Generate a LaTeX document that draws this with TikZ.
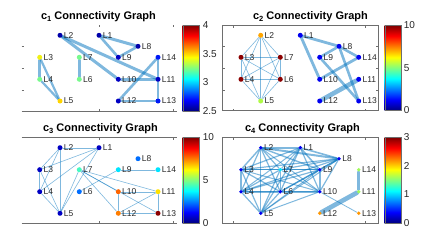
\documentclass[tikz,border=0pt]{standalone}
\usepackage{fontspec}
\setmainfont{Liberation Sans}
\usetikzlibrary{backgrounds}
\definecolor{edgec}{RGB}{0,114,189}
\definecolor{axc}{RGB}{110,110,110}
\definecolor{jet0}{RGB}{0,0,128}
\definecolor{jet1}{RGB}{0,0,255}
\definecolor{jet2}{RGB}{0,255,255}
\definecolor{jet3}{RGB}{255,255,0}
\definecolor{jet4}{RGB}{255,0,0}
\definecolor{jet5}{RGB}{128,0,0}
% node colours
\definecolor{navyA}{RGB}{0,0,170}
\definecolor{navyB}{RGB}{0,0,195}
\definecolor{blueA}{RGB}{0,25,245}
\definecolor{blueB}{RGB}{0,0,240}
\definecolor{yelA}{RGB}{240,240,20}
\definecolor{goldA}{RGB}{255,212,0}
\definecolor{mintA}{RGB}{120,250,140}
\definecolor{oraA}{RGB}{255,165,0}
\definecolor{redD}{RGB}{140,0,0}
\definecolor{limeA}{RGB}{175,250,70}
\definecolor{skyA}{RGB}{0,110,255}
\definecolor{aquaA}{RGB}{70,250,195}
\definecolor{cyanA}{RGB}{0,228,255}
\definecolor{oraB}{RGB}{255,100,0}
\definecolor{oraC}{RGB}{255,125,0}
\definecolor{yelB}{RGB}{255,225,0}
\definecolor{cyanB}{RGB}{0,230,255}
\definecolor{greenA}{RGB}{160,250,90}
\definecolor{oraD}{RGB}{255,150,0}
\pgfdeclareverticalshading{jetbar}{100bp}{color(0bp)=(jet0); color(25bp)=(jet0); color(31.25bp)=(jet1); color(43.75bp)=(jet2); color(56.25bp)=(jet3); color(68.75bp)=(jet4); color(75bp)=(jet5); color(100bp)=(jet5)}
\tikzset{
  lnk/.style={draw=edgec, draw opacity=0.5, line cap=round},
  vtx/.style={circle, inner sep=0pt, minimum size=5pt, draw=none},
  vtxs/.style={circle, inner sep=0pt, minimum size=3.8pt, draw=none},
  lab/.style={font=\fontsize{8.5}{9}\selectfont, inner sep=0pt, text=black!85},
  ttl/.style={font=\fontsize{11}{13}\selectfont\bfseries, inner sep=0pt, anchor=base},
  cbl/.style={font=\fontsize{10}{12}\selectfont, inner sep=0pt, anchor=west, text=black!85},
  axl/.style={draw=axc, line width=0.5pt},
  cbar/.style={shading=jetbar, draw=axc, line width=0.4pt},
  label distance=1pt
}
\newcommand{\sub}[1]{\raisebox{-2.5pt}{\fontsize{7.5}{8}\selectfont #1}}
\begin{document}
\begin{tikzpicture}[x=1pt,y=-1pt]
\useasboundingbox (0,0) rectangle (424,249);

% ---------------- Panel 1 ----------------
\draw[axl] (21.7,111) -- (176.7,111);
\foreach \y in {46.7,68.3,90} \draw[axl] (21.7,\y) -- ++(2,0);
\foreach \x in {99,173} {\draw[axl] (\x,111) -- ++(0,-2); \draw[axl] (\x,25) -- ++(0,2);}
\node[ttl] (t1) at (98.5,19.5) {c\sub{1} Connectivity Graph};
\foreach \n/\x/\y/\c in {L1/99/35.3/navyA, L2/60/35.3/navyA, L8/138/46.3/navyA,
  L3/39.7/57.3/yelA, L7/79.3/57.3/mintA, L9/118.3/57.3/navyB, L14/158/57.3/blueA,
  L4/39.7/79.3/mintA, L6/79.3/79.3/mintA, L10/118.3/79.3/navyB, L11/158/79.3/navyB,
  L5/60/101/goldA, L12/118.3/101/navyB, L13/158/101/blueA}
  \node[vtx, fill=\c, label={[lab]right:\n}] (a\n) at (\x,\y) {};
\begin{scope}[on background layer]
\foreach \u/\v/\w in {L2/L10/3, L2/L11/3, L1/L8/3, L1/L9/2.6, L8/L9/2.6, L3/L4/2.6,
  L3/L5/2.2, L4/L5/2.2, L7/L6/3, L10/L11/2.6, L14/L12/2.6, L14/L11/2.6, L11/L13/2.6, L12/L13/2.6}
  \draw[lnk, line width=\w pt] (a\u) -- (a\v);
\end{scope}
\shade[cbar] (182.7,25) rectangle (199.3,111);
\node[cbl] (k1a) at (202.7,25) {4};
\node[cbl] (k1b) at (202.7,53.7) {3.5};
\node[cbl] (k1c) at (202.7,82.3) {3};
\node[cbl] (k1d) at (202.7,111) {2.5};

% ---------------- Panel 2 ----------------
\draw[axl] (222.7,25.5) rectangle (378,110.5);
\foreach \y in {46.7,68.3,90} {\draw[axl] (222.7,\y) -- ++(2,0); \draw[axl] (378,\y) -- ++(-2,0);}
\foreach \x in {233.7,365.3} {\draw[axl] (\x,110.5) -- ++(0,-2); \draw[axl] (\x,25.5) -- ++(0,2);}
\node[ttl] (t2) at (310.5,19.5) {c\sub{2} Connectivity Graph};
\foreach \n/\x/\y/\c in {L1/300.3/35.3/blueB, L2/260.7/35.3/oraA, L8/339/46.3/blueB,
  L3/241/57.3/redD, L7/280.3/57.3/redD, L9/319.7/57.3/blueB, L14/358.7/57.3/blueB,
  L4/241/79.3/redD, L6/280.3/79.3/redD, L10/319.7/79.3/blueB, L11/358.7/79.3/blueB,
  L5/260.7/101/limeA, L12/319.7/101/blueB, L13/358.7/101/blueB}
  \node[vtx, fill=\c, label={[lab]right:\n}] (b\n) at (\x,\y) {};
\begin{scope}[on background layer]
\foreach \u/\v in {L2/L3, L2/L7, L2/L4, L2/L6, L2/L5, L3/L7, L3/L4, L3/L6, L3/L5,
  L7/L4, L7/L6, L7/L5, L4/L6, L4/L5, L6/L5}
  \draw[lnk, line width=0.6pt] (b\u) -- (b\v);
\foreach \u/\v/\w in {L1/L8/2.8, L1/L10/2.8, L8/L9/2.6, L8/L14/2.6, L8/L13/2.6,
  L9/L13/2.6, L14/L10/2.8, L11/L12/4.6}
  \draw[lnk, line width=\w pt] (b\u) -- (b\v);
\end{scope}
\shade[cbar] (384.7,25.5) rectangle (401.3,110.5);
\node[cbl] (k2a) at (403.7,25.5) {10};
\node[cbl] (k2b) at (403.7,68) {5};
\node[cbl] (k2c) at (403.7,110.5) {0};

% ---------------- Panel 3 ----------------
\draw[axl] (21.7,137.5) -- (176.7,137.5);
\draw[axl] (21.7,223) -- (176.7,223);
\foreach \x in {99,173} {\draw[axl] (\x,223) -- ++(0,-2); \draw[axl] (\x,137.5) -- ++(0,2);}
\node[ttl] (t3) at (100.5,131.3) {c\sub{3} Connectivity Graph};
\foreach \n/\x/\y/\c in {L1/99/147.7/navyB, L2/60/147.7/navyB, L8/138/158.7/skyA,
  L3/39.7/169.7/navyB, L7/79.3/169.7/aquaA, L9/118.3/169.7/cyanA, L14/158/169.7/cyanA,
  L4/39.7/191.7/navyB, L6/79.3/191.7/skyA, L10/118.3/191.7/oraB, L11/158/191.7/yelB,
  L5/60/213.3/navyB, L12/118.3/213.3/oraC, L13/158/213.3/redD}
  \node[vtx, fill=\c, label={[lab]right:\n}] (c\n) at (\x,\y) {};
\begin{scope}[on background layer]
\foreach \u/\v/\w in {L2/L1/0.4, L2/L3/0.6, L2/L4/0.6, L2/L5/0.7, L1/L3/0.6, L1/L4/0.6,
  L1/L5/0.6, L3/L4/0.6, L3/L5/0.6, L4/L5/0.6, L7/L5/0.6, L7/L10/0.6, L7/L11/0.6,
  L7/L13/0.6, L7/L12/0.6, L6/L9/0.6, L9/L14/0.4, L10/L11/0.4, L10/L12/0.5,
  L11/L12/0.6, L11/L13/0.5, L12/L13/0.4}
  \draw[lnk, line width=\w pt] (c\u) -- (c\v);
\end{scope}
\shade[cbar] (182.7,137.5) rectangle (199.3,223);
\node[cbl] (k3a) at (202.7,137.5) {10};
\node[cbl] (k3b) at (202.7,180.2) {5};
\node[cbl] (k3c) at (202.7,223) {0};

% ---------------- Panel 4 ----------------
\draw[axl] (222.7,137.5) rectangle (378,223);
\foreach \x in {233.7,365.3} {\draw[axl] (\x,223) -- ++(0,-2); \draw[axl] (\x,137.5) -- ++(0,2);}
\node[ttl] (t4) at (302.5,131.3) {c\sub{4} Connectivity Graph};
\foreach \n/\x/\y/\c in {L1/300.3/147.7/blueB, L2/260.7/147.7/blueB, L8/339/158.7/blueB,
  L3/241/169.7/blueB, L7/280.3/169.7/cyanB, L9/319.7/169.7/blueB, L14/358.7/169.7/greenA,
  L4/241/191.7/blueB, L6/280.3/191.7/blueB, L10/319.7/191.7/blueB, L11/358.7/191.7/greenA,
  L5/260.7/213.3/blueB, L12/319.7/213.3/oraD, L13/358.7/213.3/oraD}
  \node[vtxs, fill=\c, label={[lab]right:\n}] (d\n) at (\x,\y) {};
\begin{scope}[on background layer]
\foreach \u/\v/\w in {L2/L1/2, L2/L8/2, L1/L8/1.6, L2/L3/1.4, L2/L4/1.2, L2/L5/1.4,
  L2/L6/1.2, L2/L7/1.2, L2/L9/1.4, L2/L10/1, L1/L3/1.2, L1/L4/1, L1/L5/1.2, L1/L6/1.2,
  L1/L7/1, L1/L9/1.6, L1/L10/1.2, L8/L3/1.2, L8/L4/1.2, L8/L5/1, L8/L6/1.2, L8/L7/1.2,
  L8/L9/1.6, L8/L10/1.2, L3/L4/1.6, L3/L5/1.2, L3/L6/1.2, L3/L7/1.4, L3/L9/1.4,
  L3/L10/1, L4/L5/1.2, L4/L6/1.6, L4/L7/1.2, L4/L9/1.2, L4/L10/1.2, L5/L6/1.2,
  L5/L7/1.2, L5/L9/1, L5/L10/1, L6/L7/1.2, L6/L9/1.4, L6/L10/1.6, L7/L9/1.4,
  L7/L10/1, L9/L10/1.8, L10/L13/0.8, L14/L11/2.6, L11/L12/4.6}
  \draw[lnk, line width=\w pt] (d\u) -- (d\v);
\end{scope}
\shade[cbar] (384.7,137.5) rectangle (401.3,223);
\node[cbl] (k4a) at (403.7,137.5) {3};
\node[cbl] (k4b) at (403.7,166) {2};
\node[cbl] (k4c) at (403.7,194.5) {1};
\node[cbl] (k4d) at (403.7,223) {0};
\end{tikzpicture}
\end{document}
